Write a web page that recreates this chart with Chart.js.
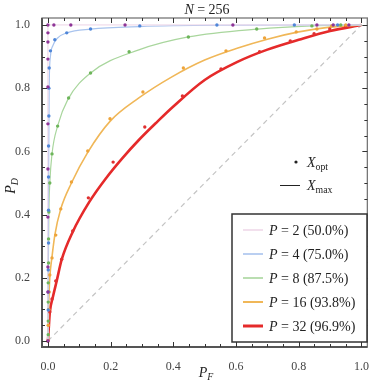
<!DOCTYPE html>
<html>
<head>
<meta charset="utf-8">
<script src="https://cdn.jsdelivr.net/npm/chart.js@4.4.1/dist/chart.umd.min.js"></script>
<style>
  html, body { margin: 0; padding: 0; background: #fff; }
  #wrap { width: 374px; height: 389px; }
</style>
</head>
<body>
<div id="wrap"><canvas id="chart"></canvas></div>
<script>
const pValues = [2, 4, 8, 16, 32];
const pShares = ["50.0%", "75.0%", "87.5%", "93.8%", "96.9%"];
const axisTicks = [0, 0.2, 0.4, 0.6, 0.8, 1.0];

// X_max curves (P_F, P_D)
const p2LineF = [0, 0, 1];
const p2LineD = [0, 1, 1];
const p4LineF = [0, 0.002, 0.004, 0.008, 0.016, 0.03, 0.06, 0.136, 0.293, 0.54, 1];
const p4LineD = [0, 0.5, 0.8, 0.9, 0.935, 0.958, 0.975, 0.987, 0.995, 0.999, 1];
const p8LineF = [0, 0.001, 0.003, 0.006, 0.013, 0.032, 0.063, 0.136, 0.29, 0.448, 0.669, 0.842, 1];
const p8LineD = [0, 0.2, 0.405, 0.5, 0.592, 0.684, 0.763, 0.848, 0.921, 0.962, 0.987, 0.997, 1];
const p16LineF = [0, 0.002, 0.006, 0.013, 0.022, 0.041, 0.075, 0.127, 0.198, 0.29, 0.394, 0.5, 0.606, 0.7, 0.8, 0.9, 1];
const p16LineD = [0, 0.1, 0.2, 0.266, 0.335, 0.418, 0.5, 0.597, 0.695, 0.769, 0.835, 0.889, 0.927, 0.955, 0.978, 0.993, 1];
const p32LineF = [0, 0.002, 0.006, 0.016, 0.028, 0.044, 0.079, 0.132, 0.186, 0.237, 0.29, 0.35, 0.4, 0.5, 0.606, 0.7, 0.8, 0.9, 1];
const p32LineD = [0, 0.03, 0.09, 0.14, 0.19, 0.258, 0.345, 0.44, 0.516, 0.578, 0.636, 0.695, 0.742, 0.826, 0.884, 0.922, 0.953, 0.981, 1];

// X_opt points
const p2OptF = [0, 0, 0, 0, 0, 0, 0, 0, 0, 0, 0, 0.019, 0.073, 0.246, 0.59, 0.858, 0.91, 0.96];
const p2OptD = [0, 0.155, 0.234, 0.392, 0.544, 0.687, 0.804, 0.892, 0.946, 0.975, 1, 1, 1, 1, 1, 1, 1, 1];
const p4OptF = [0.001, 0.001, 0.001, 0.002, 0.002, 0.002, 0.002, 0.003, 0.003, 0.004, 0.008, 0.022, 0.06, 0.136, 0.293, 0.539, 0.786, 0.924];
const p4OptD = [0.098, 0.155, 0.225, 0.31, 0.414, 0.519, 0.617, 0.712, 0.8, 0.864, 0.918, 0.953, 0.975, 0.987, 0.997, 1, 1, 1];
const p8OptF = [0.001, 0.001, 0.001, 0.001, 0.002, 0.002, 0.003, 0.006, 0.013, 0.031, 0.066, 0.136, 0.259, 0.448, 0.666, 0.842, 0.934];
const p8OptD = [0.02, 0.063, 0.123, 0.184, 0.247, 0.323, 0.408, 0.5, 0.592, 0.68, 0.769, 0.848, 0.915, 0.962, 0.987, 0.997, 1];
const p16OptF = [0.001, 0.003, 0.004, 0.006, 0.013, 0.025, 0.041, 0.075, 0.127, 0.198, 0.303, 0.432, 0.568, 0.691, 0.792, 0.858, 0.905, 0.95];
const p16OptD = [0.05, 0.1, 0.155, 0.209, 0.263, 0.335, 0.418, 0.503, 0.601, 0.703, 0.788, 0.864, 0.918, 0.959, 0.978, 0.987, 0.997, 1];
const p32OptF = [0, 0.006, 0.013, 0.025, 0.044, 0.079, 0.129, 0.208, 0.309, 0.429, 0.552, 0.675, 0.773, 0.849, 0.899, 0.95];
const p32OptD = [0, 0.092, 0.133, 0.19, 0.259, 0.348, 0.453, 0.566, 0.677, 0.775, 0.861, 0.915, 0.949, 0.972, 0.987, 0.997];

const diagF = [0, 1];
const diagD = [0, 1];

const lineColors = ["#ecd3e6", "#a9c4ee", "#a9d69d", "#f0b758", "#e52a2a"];
const lineWidths = [1, 1.2, 1.2, 1.6, 2.6];
const dotColors = ["#8e3597", "#4f86d8", "#6db55a", "#eea43a", "#e03030"];

const pts = (f, d) => f.map((x, i) => ({ x, y: d[i] }));
const lineSets = [[p2LineF, p2LineD], [p4LineF, p4LineD], [p8LineF, p8LineD], [p16LineF, p16LineD], [p32LineF, p32LineD]];
const optSets = [[p2OptF, p2OptD], [p4OptF, p4OptD], [p8OptF, p8OptD], [p16OptF, p16OptD], [p32OptF, p32OptD]];

const datasets = [];
optSets.forEach(([f, d], i) => {
  datasets.push({
    data: pts(f, d), showLine: false, pointRadius: 1.7, pointBorderWidth: 0,
    pointBackgroundColor: dotColors[i],
  });
});
lineSets.forEach(([f, d], i) => {
  datasets.push({
    data: pts(f, d), showLine: true, pointRadius: 0, borderColor: lineColors[i],
    borderWidth: lineWidths[i],
    cubicInterpolationMode: i === 0 ? "default" : "monotone", tension: 0,
  });
});
datasets.push({
  data: pts(diagF, diagD), showLine: true, pointRadius: 0, borderColor: "#c4c4c4",
  borderWidth: 1.2, borderDash: [5, 4],
});

const SERIF = "'Liberation Serif', 'DejaVu Serif', serif";

function drawSub(ctx, x, y, main, sub, size, subItalic, align) {
  ctx.font = `italic ${size}px ${SERIF}`;
  const w1 = ctx.measureText(main).width;
  ctx.font = `${subItalic ? "italic " : ""}${size * 0.7}px ${SERIF}`;
  const w2 = ctx.measureText(sub).width;
  let x0 = x;
  if (align === "center") x0 = x - (w1 + w2) / 2;
  ctx.textAlign = "left";
  ctx.font = `italic ${size}px ${SERIF}`;
  ctx.fillText(main, x0, y);
  ctx.font = `${subItalic ? "italic " : ""}${size * 0.7}px ${SERIF}`;
  ctx.fillText(sub, x0 + w1, y + size * 0.22);
}

const decor = {
  id: "decor",
  afterDraw(chart) {
    const { ctx, chartArea: a, scales: { x, y } } = chart;
    ctx.save();
    // frame
    ctx.strokeStyle = "#777";
    ctx.lineWidth = 1.3;
    ctx.strokeRect(a.left, a.top, a.right - a.left, a.bottom - a.top);
    ctx.strokeStyle = "#555";
    ctx.lineWidth = 2;
    ctx.beginPath();
    ctx.moveTo(a.left, a.top); ctx.lineTo(a.left, a.bottom); ctx.lineTo(a.right, a.bottom);
    ctx.stroke();
    // inward ticks
    ctx.lineWidth = 1;
    ctx.strokeStyle = "#333";
    ctx.beginPath();
    for (let i = 0; i <= 20; i++) {
      const v = i / 20;
      const len = i % 4 === 0 ? 5 : 3;
      const px = Math.round(x.getPixelForValue(v)) + 0.5;
      const py = Math.round(y.getPixelForValue(v)) + 0.5;
      ctx.moveTo(px, a.bottom); ctx.lineTo(px, a.bottom - len);
      ctx.moveTo(px, a.top); ctx.lineTo(px, a.top + len);
      ctx.moveTo(a.left, py); ctx.lineTo(a.left + len, py);
      ctx.moveTo(a.right, py); ctx.lineTo(a.right - len, py);
    }
    ctx.stroke();

    ctx.fillStyle = "#222";
    ctx.textBaseline = "alphabetic";
    // title
    ctx.font = `14px ${SERIF}`;
    const rest = " = 256";
    const wr = ctx.measureText(rest).width;
    ctx.font = `italic 14px ${SERIF}`;
    const wn = ctx.measureText("N").width;
    const tx = 207 - (wn + wr) / 2;
    ctx.textAlign = "left";
    ctx.fillText("N", tx, 14);
    ctx.font = `14px ${SERIF}`;
    ctx.fillText(rest, tx + wn, 14);

    // axis labels
    drawSub(ctx, 206, 377, "P", "F", 14, true, "center");
    ctx.save();
    ctx.translate(15, 186);
    ctx.rotate(-Math.PI / 2);
    drawSub(ctx, 0, 0, "P", "D", 14, true, "center");
    ctx.restore();

    // X legend
    ctx.beginPath();
    ctx.arc(296, 162, 1.6, 0, Math.PI * 2);
    ctx.fill();
    drawSub(ctx, 307, 167, "X", "opt", 14, false, "left");
    ctx.strokeStyle = "#222";
    ctx.lineWidth = 1;
    ctx.beginPath();
    ctx.moveTo(280, 185.5); ctx.lineTo(300, 185.5);
    ctx.stroke();
    drawSub(ctx, 307, 190, "X", "max", 14, false, "left");

    // P legend box
    ctx.fillStyle = "#fff";
    ctx.fillRect(232, 214, 135, 128);
    ctx.strokeStyle = "#333";
    ctx.lineWidth = 1.5;
    ctx.strokeRect(232, 214, 135, 128);
    pValues.forEach((p, i) => {
      const ly = 230 + i * 24;
      ctx.strokeStyle = lineColors[i];
      ctx.lineWidth = lineWidths[i] + 0.4;
      ctx.beginPath();
      ctx.moveTo(243, ly); ctx.lineTo(263, ly);
      ctx.stroke();
      ctx.fillStyle = "#222";
      ctx.textAlign = "left";
      ctx.font = `italic 14px ${SERIF}`;
      ctx.fillText("P", 269, ly + 5);
      const wp = ctx.measureText("P").width;
      ctx.font = `14px ${SERIF}`;
      ctx.fillText(` = ${p} (${pShares[i]})`, 269 + wp, ly + 5);
    });
    ctx.restore();
  },
};

const tickFont = { family: SERIF, size: 12 };
new Chart(document.getElementById("chart"), {
  type: "scatter",
  data: { datasets },
  options: {
    responsive: true,
    maintainAspectRatio: false,
    animation: false,
    layout: { padding: { top: 18, right: 3, left: 0, bottom: 0 } },
    plugins: { legend: { display: false }, tooltip: { enabled: false } },
    scales: {
      x: {
        type: "linear", min: -0.0189, max: 1.0189,
        grid: { display: false }, border: { display: false },
        afterBuildTicks: (s) => { s.ticks = axisTicks.map((v) => ({ value: v })); },
        afterFit: (s) => { s.height = 42; },
        ticks: { font: tickFont, color: "#444", padding: 5, maxRotation: 0, callback: (v) => Number(v).toFixed(1) },
      },
      y: {
        type: "linear", min: -0.019, max: 1.022,
        grid: { display: false }, border: { display: false },
        afterBuildTicks: (s) => { s.ticks = axisTicks.map((v) => ({ value: v })); },
        afterFit: (s) => { s.width = 42; },
        ticks: { font: tickFont, color: "#444", padding: 4, callback: (v) => Number(v).toFixed(1) },
      },
    },
  },
  plugins: [decor],
});
</script>
</body>
</html>
